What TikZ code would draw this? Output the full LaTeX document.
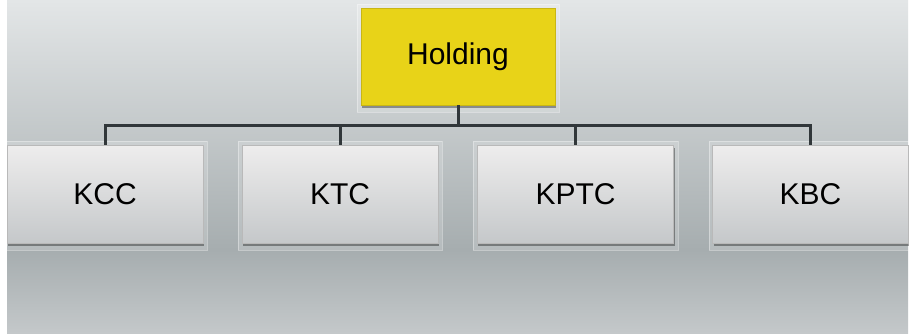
\documentclass[tikz,border=0pt]{standalone}
\usepackage{fontspec}
\setmainfont{Liberation Sans}
\usetikzlibrary{calc}
\definecolor{bgtop}{HTML}{E3E6E7}
\definecolor{bgmid}{HTML}{A6ADAF}
\definecolor{bgbot}{HTML}{C4C8CA}
\definecolor{holdyellow}{HTML}{E8D318}
\definecolor{holdedge}{HTML}{C9B614}
\definecolor{boxtop}{HTML}{EEEDED}
\definecolor{boxbot}{HTML}{C5C8CA}
\definecolor{linec}{HTML}{31373A}
\pgfdeclareverticalshading{panelshade}{100bp}{color(0bp)=(bgbot); color(25bp)=(bgbot); color(37.5bp)=(bgmid); color(75bp)=(bgtop); color(100bp)=(bgtop)}
\tikzset{
  unitbox/.style={minimum width=196pt, minimum height=98pt, inner sep=0pt,
    top color=boxtop, bottom color=boxbot, draw=gray!55, line width=0.6pt,
    font=\fontsize{30}{34}\selectfont, text=black},
  holdbox/.style={minimum width=194pt, minimum height=97pt, inner sep=0pt,
    fill=holdyellow, draw=holdedge, line width=0.6pt,
    font=\fontsize{30}{34}\selectfont, text=black},
  frame/.style={fill=white, fill opacity=0.18, draw=white, draw opacity=0.35, line width=0.6pt},
  shadowbox/.style={fill=black, fill opacity=0.35, draw=none},
  conn/.style={draw=linec, line width=3pt}
}
\begin{document}
\begin{tikzpicture}[x=1pt,y=-1pt]
\useasboundingbox (0,0) rectangle (916,333);
\fill[white] (0,0) rectangle (916,333);
\shade[shading=panelshade] (7,0) rectangle (908,333);
% frames and shadows
\foreach \xa/\xb in {7/203,242/438,477/674,713/908}{
  \path[frame] (\xa-4,141) rectangle (\xb+4,250);
  \path[shadowbox] (\xa+1,148) rectangle (\xb+1,246);
}
\path[frame] (357,4) rectangle (559,112);
\path[shadowbox] (362,11) rectangle (556,108);
% nodes
\node[holdbox] (hold) at (458,56.5) {Holding};
\node[unitbox] (kcc) at (105,194) {KCC};
\node[unitbox] (ktc) at (340,194) {KTC};
\node[unitbox] (kptc) at (575.5,194) {KPTC};
\node[unitbox] (kbc) at (810.5,194) {KBC};
\coordinate (bus) at (458,125);
% connectors
\draw[conn] (hold.south) -- (bus);
\draw[conn] (bus) -| (kcc.north);
\draw[conn] (bus) -| (ktc.north);
\draw[conn] (bus) -| (kptc.north);
\draw[conn] (bus) -| (kbc.north);
\end{tikzpicture}
\end{document}
